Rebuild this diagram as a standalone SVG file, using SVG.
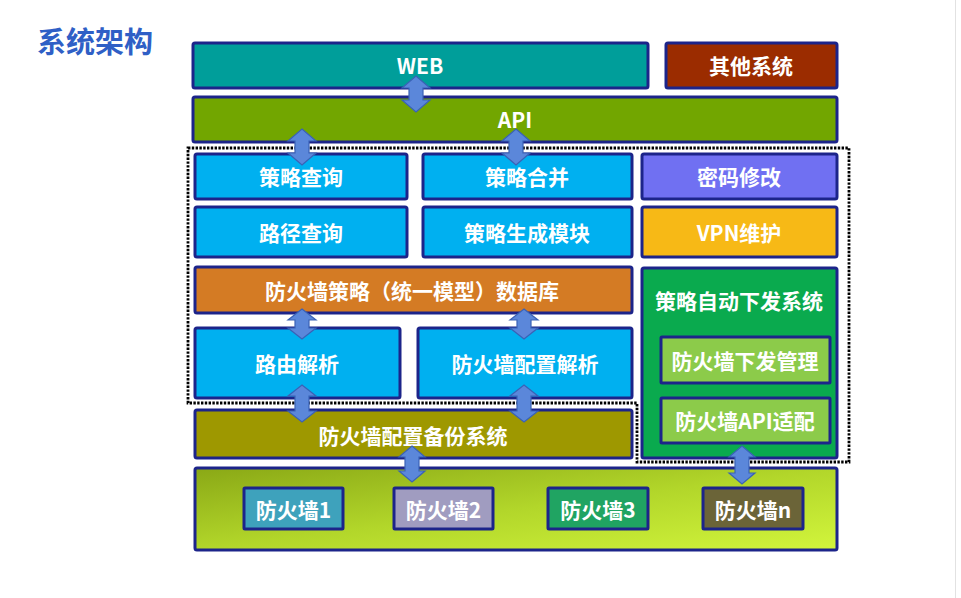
<svg xmlns="http://www.w3.org/2000/svg" width="961" height="598" viewBox="0 0 961 598">
<defs>
<linearGradient id="gBottom" x1="0" y1="0" x2="1" y2="1">
<stop offset="0" stop-color="#8AA816"/>
<stop offset="0.5" stop-color="#B2D62A"/>
<stop offset="1" stop-color="#D2F53C"/>
</linearGradient>
<style>
.box{stroke:#1C248A;stroke-width:3}
.lbl{font-family:"Noto Sans CJK SC","Liberation Sans",sans-serif;font-weight:bold;font-size:21px;fill:#FFFFFF;text-anchor:middle;dominant-baseline:central}
.arr{fill:#5B87DA;stroke:#3A62B6;stroke-width:1.2}
.dot{fill:none;stroke:#000;stroke-width:2.8;stroke-dasharray:2.4 1.4}
</style>
</defs>
<rect width="961" height="598" fill="#FFFFFF"/>
<line x1="955.5" y1="0" x2="955.5" y2="598" stroke="#E2E2E2" stroke-width="1"/>
<text x="37" y="40" style="font-family:'Noto Sans CJK SC','Liberation Sans',sans-serif;font-size:29px;font-weight:bold;fill:#2F5FC6;dominant-baseline:central">系统架构</text>

<path class="dot" d="M188,148 H849 V462 H637 V403 H188 Z"/>

<g id="web"><rect class="box" x="193" y="43" width="455" height="45" rx="2" fill="#009E9A"/><text class="lbl" x="420" y="65">WEB</text></g>
<g id="other"><rect class="box" x="666" y="43" width="171" height="45" rx="2" fill="#9B2C00"/><text class="lbl" x="751" y="65">其他系统</text></g>
<g id="api"><rect class="box" x="193" y="97" width="644" height="45" rx="2" fill="#72A600"/><text class="lbl" x="515" y="119">API</text></g>

<g id="policy-query"><rect class="box" x="195" y="154" width="212" height="45" rx="2" fill="#00B0F0"/><text class="lbl" x="301" y="176">策略查询</text></g>
<g id="policy-merge"><rect class="box" x="423" y="154" width="209" height="45" rx="2" fill="#00B0F0"/><text class="lbl" x="527" y="176">策略合并</text></g>
<g id="pwd"><rect class="box" x="642" y="154" width="195" height="45" rx="2" fill="#7070F2"/><text class="lbl" x="739" y="176">密码修改</text></g>

<g id="path-query"><rect class="box" x="195" y="207" width="212" height="50" rx="2" fill="#00B0F0"/><text class="lbl" x="301" y="232">路径查询</text></g>
<g id="policy-gen"><rect class="box" x="423" y="207" width="209" height="50" rx="2" fill="#00B0F0"/><text class="lbl" x="527" y="232">策略生成模块</text></g>
<g id="vpn"><rect class="box" x="642" y="207" width="195" height="50" rx="2" fill="#F7B916"/><text class="lbl" x="739" y="232">VPN维护</text></g>

<g id="db"><rect class="box" x="195" y="267" width="437" height="46" rx="2" fill="#D47B24"/><text class="lbl" x="412" y="290">防火墙策略（统一模型）数据库</text></g>

<g id="auto-deploy"><rect class="box" x="642" y="268" width="195" height="190" rx="2" fill="#0AAA4E"/><text class="lbl" x="739" y="300">策略自动下发系统</text>
<g id="fw-deploy-mgmt"><rect class="box" x="661" y="337" width="169" height="46" rx="1" fill="#8CCB4A"/><text class="lbl" x="745" y="360">防火墙下发管理</text></g>
<g id="fw-api-adapt"><rect class="box" x="661" y="398" width="169" height="45" rx="1" fill="#8CCB4A"/><text class="lbl" x="745" y="420">防火墙API适配</text></g>
</g>

<g id="route-parse"><rect class="box" x="195" y="328" width="205" height="70" rx="2" fill="#00B0F0"/><text class="lbl" x="297" y="363">路由解析</text></g>
<g id="fw-conf-parse"><rect class="box" x="418" y="328" width="214" height="70" rx="2" fill="#00B0F0"/><text class="lbl" x="525" y="363">防火墙配置解析</text></g>

<g id="backup"><rect class="box" x="195" y="410" width="437" height="48" rx="2" fill="#9E9800"/><text class="lbl" x="413" y="435">防火墙配置备份系统</text></g>

<g id="firewalls"><rect class="box" x="195" y="468" width="642" height="82" rx="2" fill="url(#gBottom)"/>
<g id="fw1"><rect class="box" x="244" y="488" width="99" height="41" rx="1" fill="#3EA2BC"/><text class="lbl" x="293.5" y="509">防火墙1</text></g>
<g id="fw2"><rect class="box" x="394" y="488" width="99" height="41" rx="1" fill="#A09CC0"/><text class="lbl" x="443.5" y="509">防火墙2</text></g>
<g id="fw3"><rect class="box" x="548" y="488" width="100" height="41" rx="1" fill="#20A462"/><text class="lbl" x="598" y="509">防火墙3</text></g>
<g id="fwn"><rect class="box" x="703" y="488" width="100" height="41" rx="1" fill="#6B6438"/><text class="lbl" x="753" y="509">防火墙n</text></g>
</g>

<g id="connectors">
<path class="arr" d="M416,76 L430,88 L423,88 L423,100 L430,100 L416,112 L402,100 L409,100 L409,88 L402,88 Z"/>
<path class="arr" d="M302,129 L316,141 L309,141 L309,153 L316,153 L302,165 L288,153 L295,153 L295,141 L288,141 Z"/>
<path class="arr" d="M516,129 L530,141 L523,141 L523,153 L530,153 L516,165 L502,153 L509,153 L509,141 L502,141 Z"/>
<path class="arr" d="M302,309 L316,320 L309,320 L309,328 L316,328 L302,339 L288,328 L295,328 L295,320 L288,320 Z"/>
<path class="arr" d="M524,309 L538,320 L531,320 L531,328 L538,328 L524,339 L510,328 L517,328 L517,320 L510,320 Z"/>
<path class="arr" d="M302,385 L316,396 L309,396 L309,411 L316,411 L302,422 L288,411 L295,411 L295,396 L288,396 Z"/>
<path class="arr" d="M524,385 L538,396 L531,396 L531,411 L538,411 L524,422 L510,411 L517,411 L517,396 L510,396 Z"/>
<path class="arr" d="M412,446 L425,457 L419,457 L419,471 L425,471 L412,482 L399,471 L405,471 L405,457 L399,457 Z"/>
<path class="arr" d="M742,446 L755,457 L749,457 L749,473 L755,473 L742,484 L729,473 L735,473 L735,457 L729,457 Z"/>
</g>
</svg>
